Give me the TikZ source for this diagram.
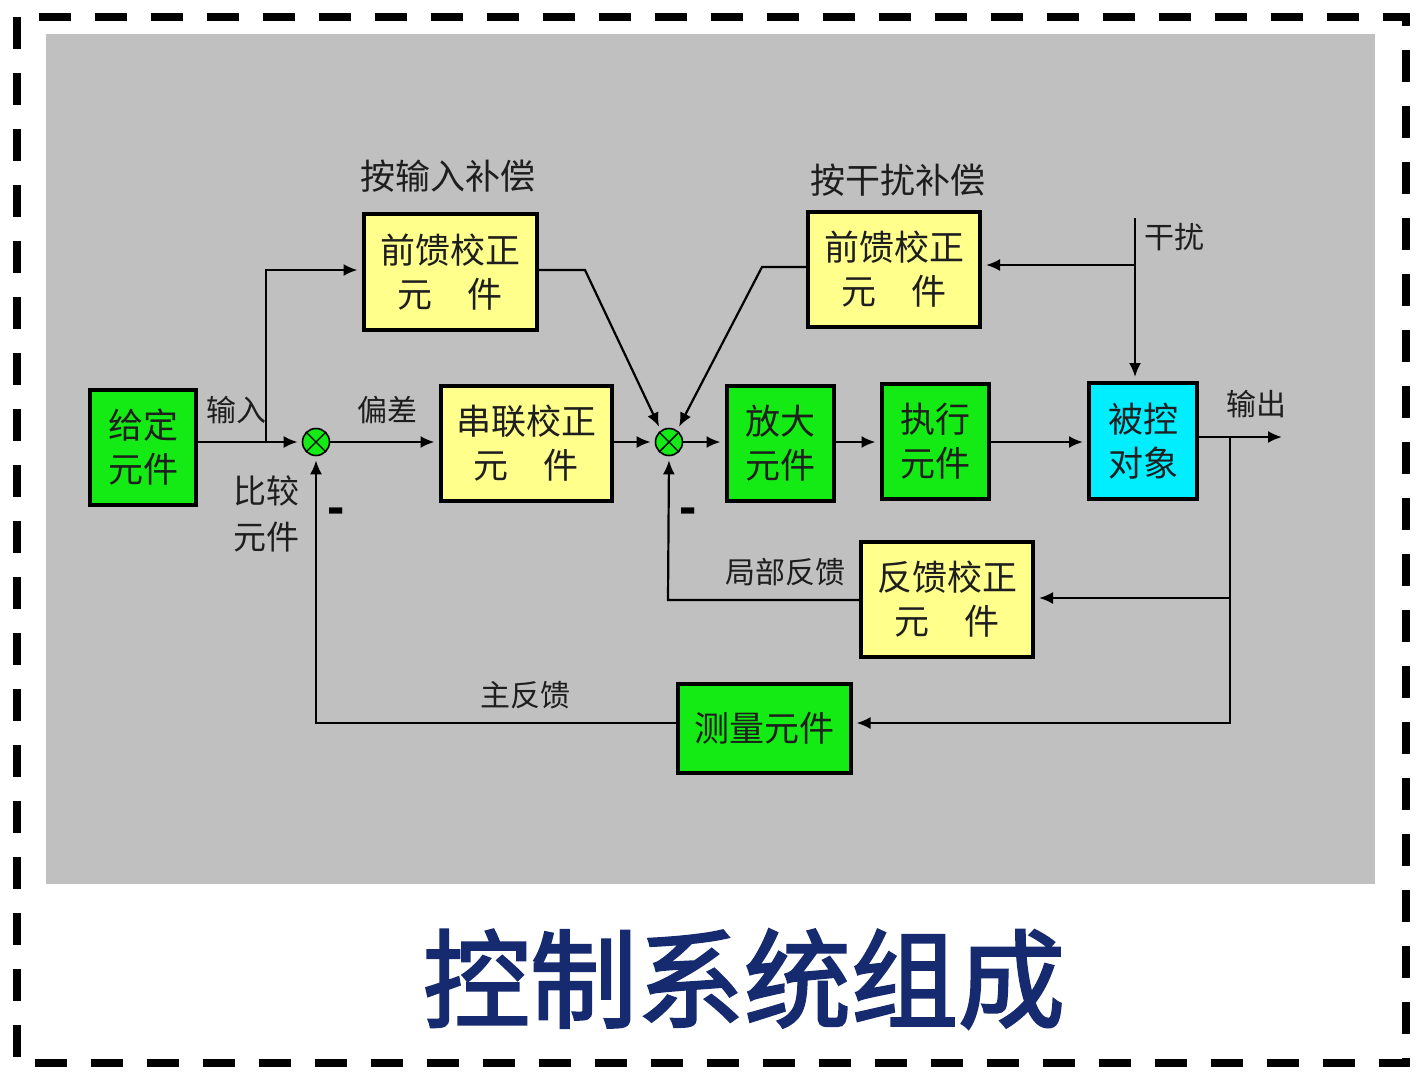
\documentclass[tikz,border=0pt]{standalone}
\usepackage{fontspec}
\setmainfont{Noto Sans CJK SC}
\newfontfamily\minusfont{Liberation Sans}
\newfontfamily\titlefont{Noto Sans CJK SC}[FakeBold=2.2]
\usetikzlibrary{arrows.meta,calc}
\definecolor{bggray}{RGB}{192,192,192}
\definecolor{boxgreen}{RGB}{20,235,20}
\definecolor{boxyellow}{RGB}{255,255,140}
\definecolor{boxcyan}{RGB}{0,238,255}
\definecolor{navy}{RGB}{22,42,112}
\definecolor{txt}{RGB}{30,30,30}
\begin{document}
\begin{tikzpicture}[x=1pt,y=-1pt,
  blk/.style={draw=black,line width=4pt,inner sep=0pt,align=center,text=txt,
    font=\fontsize{35}{44}\selectfont},
  gbox/.style={blk,fill=boxgreen},
  ybox/.style={blk,fill=boxyellow},
  cbox/.style={blk,fill=boxcyan},
  sumj/.style={circle,draw=black,line width=1.6pt,fill=boxgreen,minimum size=27pt,inner sep=0pt},
  conn/.style={line width=2.2pt,draw=black},
  arr/.style={conn,-{Latex[length=14pt,width=12pt]},shorten >=4pt},
  lbl/.style={text=txt,inner sep=0pt,font=\fontsize{30}{36}\selectfont},
  biglbl/.style={text=txt,inner sep=0pt,font=\fontsize{35}{42}\selectfont},
  minus/.style={inner sep=0pt,font=\minusfont\bfseries\fontsize{52}{52}\selectfont}
]
\useasboundingbox (0,0) rectangle (1428,1082);
\fill[white] (0,0) rectangle (1428,1082);
\fill[bggray] (46,34) rectangle (1375,884);
\draw[line width=8pt,dash pattern=on 32pt off 24pt] (17,17) rectangle (1406,1063);

% blocks
\node[gbox,minimum width=106pt,minimum height=115pt] (gd) at (143,447) {给定\\元件};
\node[ybox,minimum width=173pt,minimum height=116pt] (qk1) at (450,272) {前馈校正\\元\hspace{1em}件};
\node[ybox,minimum width=171pt,minimum height=115pt] (chl) at (526,443) {串联校正\\元\hspace{1em}件};
\node[gbox,minimum width=107pt,minimum height=115pt] (fd) at (780,443) {放大\\元件};
\node[gbox,minimum width=107pt,minimum height=115pt] (zx) at (935,441) {执行\\元件};
\node[cbox,minimum width=108pt,minimum height=116pt] (bk) at (1143,441) {被控\\对象};
\node[ybox,minimum width=172pt,minimum height=115pt] (qk2) at (894,269) {前馈校正\\元\hspace{1em}件};
\node[ybox,minimum width=172pt,minimum height=115pt] (fk) at (947,599) {反馈校正\\元\hspace{1em}件};
\node[gbox,minimum width=173pt,minimum height=89pt] (cl) at (764,728) {测量元件};

% summing junctions
\node[sumj] (s1) at (316,442) {};
\draw[line width=1.4pt] (s1.45) -- (s1.225) (s1.135) -- (s1.315);
\node[sumj] (s2) at (669,442) {};
\draw[line width=1.4pt] (s2.45) -- (s2.225) (s2.135) -- (s2.315);

% named points
\coordinate (bin) at (266,442);
\coordinate (bin2) at (266,270);
\coordinate (d1) at (585,270);
\coordinate (d2) at (762,267);
\coordinate (dtop) at (1135,218);
\coordinate (dbr) at (1135,265);
\coordinate (out) at (1282,437);
\coordinate (obr) at (1230,437);
\coordinate (obr1) at (1230,598);
\coordinate (obr2) at (1230,723);
\coordinate (lf) at (668,600);
\coordinate (mf) at (316,723);

% forward path
\draw[arr] (gd.east |- s1) -- (s1.west);
\draw[arr] (bin) -- (bin2) -- (qk1.west |- bin2);
\draw[arr] (s1.east) -- (chl.west |- s1);
\draw[arr] (chl.east |- s2) -- (s2.west);
\draw[arr] (s2.east) -- (fd.west |- s2);
\draw[arr] (fd.east |- s2) -- (zx.west |- s2);
\draw[arr] (zx.east |- s2) -- (bk.west |- s2);
\draw[arr,shorten >=0pt] (bk.east |- out) -- (out);

% feedforward paths
\draw[arr] (qk1.east |- d1) -- (d1) -- (s2.125);
\draw[arr] (qk2.west |- d2) -- (d2) -- (s2.55);
\draw[arr] (dtop) -- (bk.north -| dtop);
\draw[arr] (dbr) -- (qk2.east |- dbr);

% feedback paths
\draw[arr] (obr) -- (obr1) -- (fk.east |- obr1);
\draw[arr] (obr1) -- (obr2) -- (cl.east |- obr2);
\draw[arr] (fk.west |- lf) -- (lf) -- (s2.south);
\draw[arr] (cl.west |- mf) -- (mf) -- (s1.south);

% labels
\node[biglbl] (l1) at (448,176) {按输入补偿};
\node[biglbl] (l2) at (898,180) {按干扰补偿};
\node[lbl] (l3) at (1174,237) {干扰};
\node[lbl] (l4) at (236,410) {输入};
\node[lbl] (l5) at (387,410) {偏差};
\node[lbl] (l6) at (1256,404) {输出};
\node[biglbl,align=center,font=\fontsize{33}{46}\selectfont] (l7) at (266,514) {比较\\元件};
\node[lbl] (l8) at (785,572) {局部反馈};
\node[lbl] (l9) at (525,695) {主反馈};
\node[minus] (m1) at (336,516) {-};
\node[minus] (m2) at (688,516) {-};

% title
\node[inner sep=0pt,text=navy,font=\titlefont\fontsize{107}{112}\selectfont] (title) at (744,979) {控制系统组成};
\end{tikzpicture}
\end{document}
